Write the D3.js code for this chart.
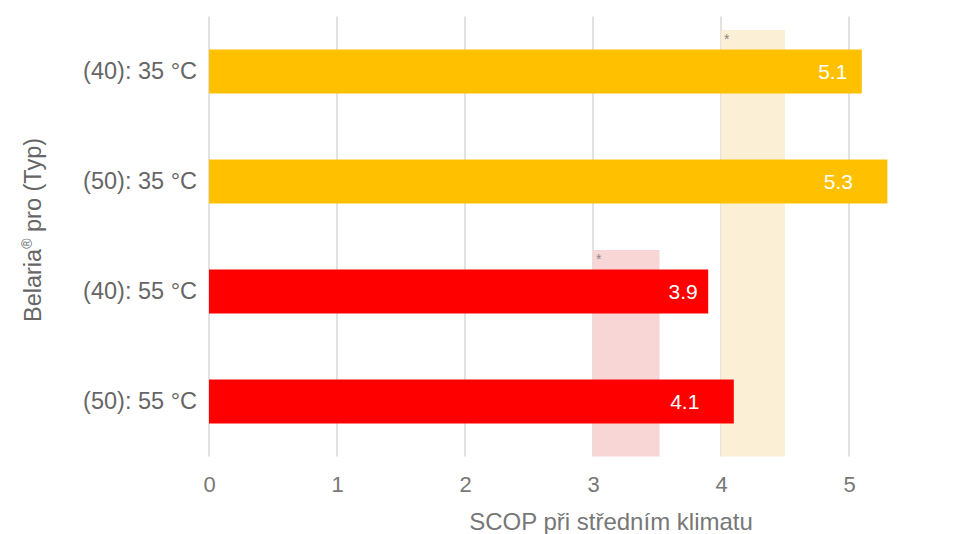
<!DOCTYPE html>
<html>
<head>
<meta charset="utf-8">
<script src="https://cdn.jsdelivr.net/npm/d3@7"></script>
<style>
  body { margin: 0; background: #fff; }
  text { font-family: "Liberation Sans", Arial, sans-serif; }
</style>
</head>
<body>
<div id="chart"></div>
<script>
// categories and values
var categories = ["(40): 35 °C", "(50): 35 °C", "(40): 55 °C", "(50): 55 °C"];
var scop = [5.1, 5.3, 3.9, 4.1];
var barColors = ["#ffc000", "#ffc000", "#ff0000", "#ff0000"];
var xTicks = [0, 1, 2, 3, 4, 5];

// highlighted ranges (marked with *)
var rangeFrom = [4, 3];
var rangeTo = [4.5, 3.52];
var rangeFirstCat = ["(40): 35 °C", "(40): 55 °C"];
var rangeColors = ["#fbefd3", "#f9d3d3"];

// label nudges (px left of bar end, centre of text)
var labelOffset = [29, 49, 25, 49];

var width = 967, height = 534;
var margin = {top: 16.5, left: 209, bottom: 77.5};
var plotW = 640;
var font = "'Liberation Sans', Arial, sans-serif";

var svg = d3.select("#chart").append("svg")
    .attr("width", width)
    .attr("height", height);

var x = d3.scaleLinear().domain([0, 5]).range([margin.left, margin.left + plotW]);
var y = d3.scaleBand()
    .domain(categories)
    .range([margin.top, height - margin.bottom])
    .paddingInner(0.6)
    .paddingOuter(0.3);

var plotBottom = height - margin.bottom;

//grid
svg.append("g").selectAll("line")
    .data(xTicks)
    .enter().append("line")
    .attr("x1", function(d) { return x(d); })
    .attr("x2", function(d) { return x(d); })
    .attr("y1", margin.top)
    .attr("y2", plotBottom)
    .attr("stroke", "#e2e2e2")
    .attr("stroke-width", 2);

//ranges
var ranges = rangeFrom.map(function(d, i) {
  return {from: d, to: rangeTo[i], cat: rangeFirstCat[i], color: rangeColors[i]};
});
svg.append("g").selectAll("rect")
    .data(ranges)
    .enter().append("rect")
    .attr("x", function(d) { return x(d.from); })
    .attr("width", function(d) { return x(d.to) - x(d.from); })
    .attr("y", function(d) { return y(d.cat) - 19.5; })
    .attr("height", function(d) { return plotBottom - y(d.cat) + 19.5; })
    .attr("fill", function(d) { return d.color; })
    .attr("fill-opacity", 0.92);

svg.append("g").selectAll("text")
    .data(ranges)
    .enter().append("text")
    .attr("x", function(d) { return x(d.from) + 3; })
    .attr("y", function(d) { return y(d.cat) - 19.5 + 14; })
    .attr("font-size", 14)
    .attr("fill", "#888")
    .text("*");

//bars
svg.append("g").selectAll("rect")
    .data(categories)
    .enter().append("rect")
    .attr("x", x(0))
    .attr("y", function(d) { return y(d); })
    .attr("width", function(d, i) { return x(scop[i]) - x(0); })
    .attr("height", y.bandwidth())
    .attr("fill", function(d, i) { return barColors[i]; });

//value labels
svg.append("g").selectAll("text")
    .data(categories)
    .enter().append("text")
    .attr("x", function(d, i) { return x(scop[i]) - labelOffset[i]; })
    .attr("y", function(d) { return y(d) + y.bandwidth() / 2; })
    .attr("dy", "0.36em")
    .attr("text-anchor", "middle")
    .attr("font-size", 21)
    .attr("fill", "#fff")
    .text(function(d, i) { return scop[i]; });

//x axis
var xAxis = d3.axisBottom(x).tickValues(xTicks).tickFormat(d3.format("d")).tickSize(0).tickPadding(0);
var gx = svg.append("g")
    .attr("transform", "translate(0," + (plotBottom + 35) + ")")
    .call(xAxis);
gx.select(".domain").remove();
gx.selectAll("text")
    .attr("dy", 0)
    .attr("font-size", 22)
    .attr("fill", "#777")
    .style("font-family", font);

//y axis
var yAxis = d3.axisLeft(y).tickSize(0).tickPadding(12);
var gy = svg.append("g")
    .attr("transform", "translate(" + x(0) + ",0)")
    .call(yAxis);
gy.select(".domain").remove();
gy.selectAll("text")
    .attr("font-size", 23.5)
    .attr("fill", "#666")
    .style("font-family", font);

//axis titles
svg.append("text")
    .attr("x", 611)
    .attr("y", 530)
    .attr("text-anchor", "middle")
    .attr("font-size", 24)
    .attr("fill", "#777")
    .text("SCOP při středním klimatu");

var yt = svg.append("text")
    .attr("transform", "translate(41,230) rotate(-90)")
    .attr("text-anchor", "middle")
    .attr("font-size", 23.5)
    .attr("fill", "#666");
yt.append("tspan").text("Belaria");
yt.append("tspan").attr("font-size", 14).attr("dy", -9).text("®");
yt.append("tspan").attr("dy", 9).text(" pro (Typ)");
</script>
</body>
</html>
